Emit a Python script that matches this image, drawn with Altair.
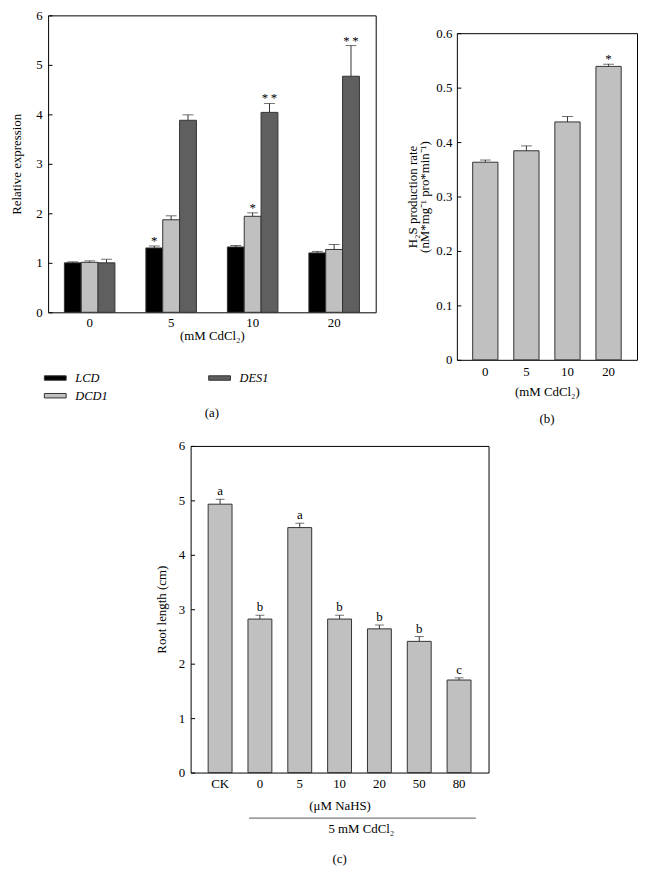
import altair as alt
import pandas as pd

FONT = "Liberation Serif"
INK = "#000000"
EDGE = "#333333"
FS = 13

# ---------------- Panel (a) data ----------------
conc_a = ["0", "5", "10", "20"]
genes = ["LCD", "DCD1", "DES1"]
lcd_mean = [1.00, 1.30, 1.32, 1.20]
lcd_err = [0.02, 0.04, 0.03, 0.03]
lcd_sig = ["", "*", "", ""]
dcd1_mean = [1.01, 1.87, 1.94, 1.27]
dcd1_err = [0.03, 0.08, 0.07, 0.10]
dcd1_sig = ["", "", "*", ""]
des1_mean = [1.00, 3.88, 4.04, 4.77]
des1_err = [0.07, 0.11, 0.18, 0.62]
des1_sig = ["", "", "*\u2009*", "*\u2009*"]
gene_colors = ["#000000", "#c0c0c0", "#5f5f5f"]
yticks_a = [0, 1, 2, 3, 4, 5, 6]

# ---------------- Panel (b) data ----------------
conc_b = ["0", "5", "10", "20"]
h2s_mean = [0.363, 0.384, 0.437, 0.539]
h2s_err = [0.004, 0.009, 0.010, 0.004]
h2s_sig = ["", "", "", "*"]
yticks_b = [0, 0.1, 0.2, 0.3, 0.4, 0.5, 0.6]

# ---------------- Panel (c) data ----------------
nahs = ["CK", "0", "5", "10", "20", "50", "80"]
root_mean = [4.93, 2.82, 4.50, 2.82, 2.64, 2.41, 1.70]
root_err = [0.09, 0.07, 0.08, 0.07, 0.07, 0.09, 0.04]
root_letter = ["a", "b", "a", "b", "b", "b", "c"]
yticks_c = [0, 1, 2, 3, 4, 5, 6]

# ---------------- tables ----------------
rows = []
for g, m, e, s in [("LCD", lcd_mean, lcd_err, lcd_sig),
                   ("DCD1", dcd1_mean, dcd1_err, dcd1_sig),
                   ("DES1", des1_mean, des1_err, des1_sig)]:
    for c, mv, ev, sv in zip(conc_a, m, e, s):
        rows.append({"conc": c, "gene": g, "mean": mv, "upper": mv + ev, "sig": sv})
df_a = pd.DataFrame(rows)

df_b = pd.DataFrame({"conc": conc_b, "mean": h2s_mean,
                     "upper": [m + e for m, e in zip(h2s_mean, h2s_err)], "sig": h2s_sig})
df_c = pd.DataFrame({"cat": nahs, "mean": root_mean,
                     "upper": [m + e for m, e in zip(root_mean, root_err)], "sig": root_letter})

frame = alt.ViewBackground(stroke="black", strokeWidth=1)


def yaxis(title, values, label_pad, title_pad, label_expr=None):
    kw = dict(title=title, values=values, offset=-4, tickSize=4, labelPadding=label_pad,
              titlePadding=title_pad, domain=False, grid=False)
    if label_expr:
        kw["labelExpr"] = label_expr
    return alt.Axis(**kw)


def xaxis(title, label_pad, title_pad):
    return alt.Axis(title=title, labelAngle=0, ticks=False, labelPadding=label_pad,
                    titlePadding=title_pad, domain=False, grid=False)


# ---------------- Panel (a) ----------------
xa = alt.X("conc:N", scale=alt.Scale(domain=conc_a, paddingInner=0.38, paddingOuter=0.2),
           axis=xaxis("(mM CdCl\u2082)", 4, 0))
xo = alt.XOffset("gene:N", scale=alt.Scale(domain=genes, paddingInner=0, paddingOuter=0))
ysc_a = alt.Scale(domain=[0, 6], nice=False)
ax_a = yaxis("Relative expression", yticks_a, 6, 12.5)

base_a = alt.Chart(df_a)
bars_a = base_a.mark_bar(stroke=EDGE, strokeWidth=1).encode(
    x=xa, xOffset=xo,
    y=alt.Y("mean:Q", scale=ysc_a, axis=ax_a),
    color=alt.Color("gene:N",
                    scale=alt.Scale(domain=genes, range=gene_colors),
                    legend=alt.Legend(title=None, orient="none", legendX=1, legendY=360,
                                      columns=2, columnPadding=99, rowPadding=5,
                                      symbolType="M-2.2,-0.45H2.2V0.45H-2.2Z", symbolSize=100,
                                      symbolStrokeColor=EDGE, symbolStrokeWidth=1,
                                      labelFont=FONT, labelFontSize=12.5, labelFontStyle="italic",
                                      labelColor=INK, labelOffset=14, padding=0)),
)
err_a = base_a.mark_rule(color=EDGE, strokeWidth=1).encode(
    x=xa, xOffset=xo, y=alt.Y("mean:Q", scale=ysc_a, axis=ax_a), y2="upper:Q")
cap_a = base_a.mark_tick(color=EDGE, thickness=1, size=11).encode(
    x=xa, xOffset=xo, y=alt.Y("upper:Q", scale=ysc_a, axis=ax_a))
sig_a = base_a.transform_filter("datum.sig != ''").mark_text(
    font=FONT, fontSize=FS, baseline="alphabetic", dy=-1, color=INK, fill=INK).encode(
    x=xa, xOffset=xo, y=alt.Y("upper:Q", scale=ysc_a, axis=ax_a), text="sig:N")

chart_a = alt.layer(bars_a, err_a, cap_a, sig_a).properties(
    width=331, height=300, view=frame,
    title=alt.TitleParams("(a)", orient="bottom", offset=66))

# ---------------- Panel (b) ----------------
xb = alt.X("conc:N", scale=alt.Scale(domain=conc_b, paddingInner=0.385, paddingOuter=0.385),
           axis=xaxis("(mM CdCl\u2082)", 6, 7))
ysc_b = alt.Scale(domain=[0, 0.6], nice=False)
ax_b = yaxis(["H\u2082S production rate", "(nM*mg\u207b\u00b9  pro*min\u207b\u00b9)"],
             yticks_b, 5, 4, "datum.value == 0 ? '0' : format(datum.value, '.1f')")

base_b = alt.Chart(df_b)
bars_b = base_b.mark_bar(color="#c0c0c0", stroke=EDGE, strokeWidth=1).encode(
    x=xb, y=alt.Y("mean:Q", scale=ysc_b, axis=ax_b))
err_b = base_b.mark_rule(color=EDGE).encode(
    x=xb, y=alt.Y("mean:Q", scale=ysc_b, axis=ax_b), y2="upper:Q")
cap_b = base_b.mark_tick(color=EDGE, thickness=1, size=11).encode(
    x=xb, y=alt.Y("upper:Q", scale=ysc_b, axis=ax_b))
sig_b = base_b.transform_filter("datum.sig != ''").mark_text(
    font=FONT, fontSize=FS, baseline="alphabetic", dy=-1, color=INK, fill=INK).encode(
    x=xb, y=alt.Y("upper:Q", scale=ysc_b, axis=ax_b), text="sig:N")

chart_b = alt.layer(bars_b, err_b, cap_b, sig_b).properties(
    width=182, height=330, view=frame,
    title=alt.TitleParams("(b)", orient="bottom", offset=15))

# ---------------- Panel (c) ----------------
xc = alt.X("cat:N", scale=alt.Scale(domain=nahs, paddingInner=0.4, paddingOuter=0.44),
           axis=xaxis("(\u03bcM NaHS)", 5, 9))
ysc_c = alt.Scale(domain=[0, 6], nice=False)
ax_c = yaxis("Root length (cm)", yticks_c, 6, 10)

base_c = alt.Chart(df_c)
bars_c = base_c.mark_bar(color="#c0c0c0", stroke=EDGE, strokeWidth=1).encode(
    x=xc, y=alt.Y("mean:Q", scale=ysc_c, axis=ax_c))
err_c = base_c.mark_rule(color=EDGE).encode(
    x=xc, y=alt.Y("mean:Q", scale=ysc_c, axis=ax_c), y2="upper:Q")
cap_c = base_c.mark_tick(color=EDGE, thickness=1, size=9).encode(
    x=xc, y=alt.Y("upper:Q", scale=ysc_c, axis=ax_c))
sig_c = base_c.mark_text(font=FONT, fontSize=FS, baseline="alphabetic", dy=-4,
                         color=INK, fill=INK).encode(
    x=xc, y=alt.Y("upper:Q", scale=ysc_c, axis=ax_c), text="sig:N")

line_df = pd.DataFrame({"cat": ["0"], "cat_end": ["80"]})
label_df = pd.DataFrame({"cat": ["10"], "label": ["5 mM CdCl\u2082"]})
group_line = alt.Chart(line_df).mark_rule(color="#555555", strokeWidth=1, xOffset=-11,
                                          x2Offset=17).encode(
    x=xc, x2="cat_end:N", y=alt.value(376))
group_text = alt.Chart(label_df).mark_text(font=FONT, fontSize=FS, baseline="middle",
                                           dx=22, color=INK, fill=INK).encode(
    x=xc, y=alt.value(387), text="label:N")

chart_c = alt.layer(bars_c, err_c, cap_c, sig_c, group_line, group_text).properties(
    width=301, height=330, view=frame,
    title=alt.TitleParams("(c)", orient="bottom", offset=17))


def spacer(w, h):
    return alt.Chart(pd.DataFrame({"s": [0]})).mark_point(opacity=0, size=0).encode(
        x=alt.value(0), y=alt.value(0)).properties(width=w, height=h)


row1 = alt.hconcat(chart_a, alt.vconcat(spacer(1, 10), chart_b, spacing=0), spacing=29)
row2 = alt.hconcat(spacer(107, 1), chart_c, spacing=0)

chart = alt.vconcat(row1, row2, spacing=12).properties(
    padding={"left": 1.5, "top": -4, "right": 0, "bottom": 0}).configure_view(
    stroke="transparent").configure_axis(
    labelFont=FONT, titleFont=FONT, labelFontSize=FS, titleFontSize=FS,
    titleFontWeight="normal", labelColor=INK, titleColor=INK, tickColor=INK,
    titleLineHeight=13).configure_title(
    font=FONT, fontSize=FS, fontWeight="normal", color=INK, anchor="middle")

chart.save("out.html", embed_options={"renderer": "svg", "actions": False})
